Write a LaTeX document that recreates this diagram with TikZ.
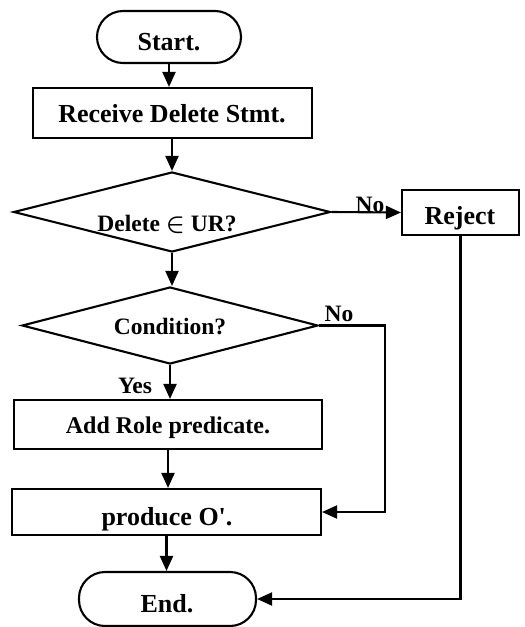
\documentclass[tikz,border=0pt]{standalone}
\usepackage{fontspec}
\setmainfont{Liberation Serif}
\usetikzlibrary{shapes.geometric,arrows.meta}
\begin{document}
\begin{tikzpicture}[x=1pt,y=-1pt,
  line width=2.1pt,
  boxnode/.style={draw,rectangle,inner sep=0pt,line width=2.1pt},
  pill/.style={draw,rectangle,rounded corners=26pt,inner sep=0pt,line width=2.1pt},
  dia/.style={draw,diamond,inner sep=0pt,line width=2.1pt},
  lbl/.style={anchor=base,inner sep=0pt,font=\bfseries\fontsize{26}{29}\selectfont},
  slbl/.style={anchor=base,inner sep=0pt,font=\bfseries\fontsize{23.5}{26}\selectfont},
  arr/.style={-{Triangle[length=15pt,width=13pt]},line width=2.1pt}]
\useasboundingbox (0,0) rectangle (525,627);

% shapes
\node[pill,minimum width=144pt,minimum height=52pt] (start) at (169,37) {};
\node[boxnode,minimum width=279pt,minimum height=50pt] (recv) at (172.5,113) {};
\node[dia,minimum width=317pt,minimum height=80pt] (d1) at (172,212) {};
\node[boxnode,minimum width=117pt,minimum height=45pt] (rej) at (460.5,212.5) {};
\node[dia,minimum width=296pt,minimum height=77pt] (d2) at (170,325.5) {};
\node[boxnode,minimum width=308pt,minimum height=49pt] (add) at (168,424.5) {};
\node[boxnode,minimum width=309pt,minimum height=46pt] (prod) at (166.5,512) {};
\node[pill,minimum width=177pt,minimum height=54pt] (end) at (167.5,599) {};

% texts
\node[lbl] (tstart) at (169,50) {Start.};
\node[lbl] (trecv) at (172,122) {Receive Delete Stmt.};
\node[slbl] (td1) at (167,231) {Delete {\boldmath$\in$} UR?};
\node[lbl] (trej) at (460,224) {Reject};
\node[slbl] (td2) at (170,334) {Condition?};
\node[lbl,font=\bfseries\fontsize{24}{27}\selectfont] (tadd) at (168,433) {Add Role predicate.};
\node[lbl] (tprod) at (167,525) {produce O\textquotesingle.};
\node[lbl] (tend) at (167,612) {End.};
\node[slbl] (no1) at (370,212) {No};
\node[slbl] (no2) at (339,321) {No};
\node[slbl] (yes) at (135,393) {Yes};

% connectors
\draw[arr] (start) -- (start |- recv.north);
\draw[arr] (recv.south -| d1.north) -- (d1.north);
\draw[arr] (d1.east) -- (rej.west);
\draw[arr] (d1.south) -- (d1.south |- d2.north);
\draw[arr] (d2.south) -- (d2.south |- add.north);
\draw[arr] (add.south) -- (add.south |- prod.north);
\draw[arr] (prod.south) -- (prod.south |- end.north);
\coordinate (nbend) at (385,325.5);
\draw[arr] (d2.east) -- (nbend) |- (prod.east);
\draw[arr] (rej.south) |- (end.east);
\end{tikzpicture}
\end{document}
